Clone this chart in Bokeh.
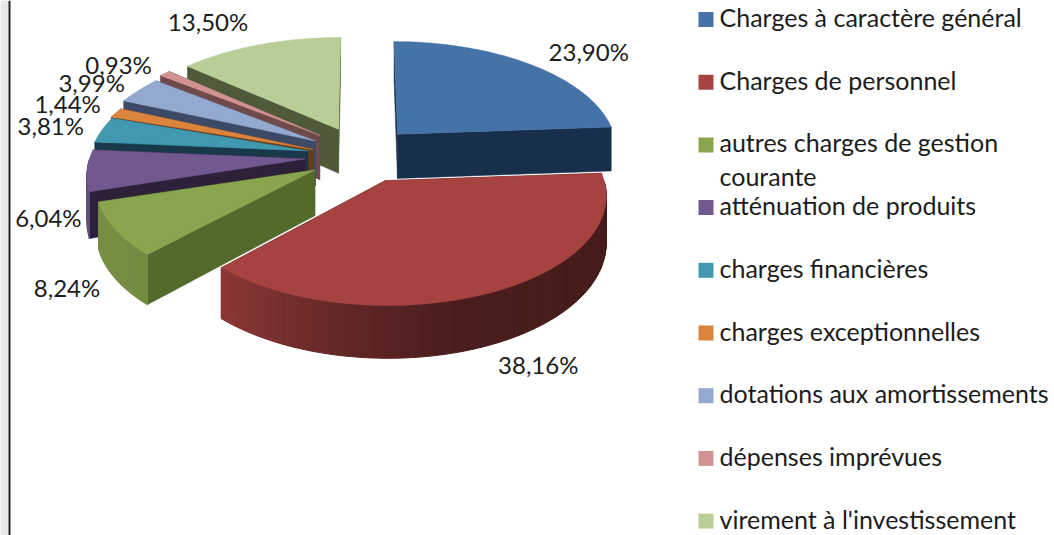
import math
from bokeh.plotting import figure
from bokeh.models import Range1d
from bokeh.embed import file_html
from bokeh.resources import INLINE
from bokeh.core.properties import value

categories = ["Charges à caractère général", "Charges de personnel",
              "autres charges de gestion\ncourante", "atténuation de produits",
              "charges financières", "charges exceptionnelles",
              "dotations aux amortissements", "dépenses imprévues",
              "virement à l'investissement"]
shares = [23.90, 38.16, 8.24, 6.04, 3.81, 1.44, 3.99, 0.93, 13.50]
colors = ["#4572A7", "#A64240", "#89A54E", "#71588F", "#4198AF", "#DB843D", "#93A9CF", "#D19392", "#B9CD96"]
walls = ["#172F4A", "#451A18", "#546A2D", "#2C2138", "#19394A", "#6A3D15", "#3D4A66", "#6E4A4A", "#4F5A3A"]

# projection of the 3-D pie
CX, CY, A, B, K, EXPL, H = 365, 155, 225, 108, 0.125, 0.21, 45
FONT = value("Lato")
label_nudge = [(56, -18), (38, 72), (-47, 57), (-42, 48), (-56, -4), (-57, -7), (-57, -11), (-56, -15), (-59, -29)]
# per-slice fine placement: horizontal scale about CX, screen offset, vertical scale about CY
slice_fit = [(0.98, 1, -5, 1.0), (0.95, 0, 5, 0.96), (0.948, -12, 3, 0.95), (0.957, -15, 1, 1.0),
             (0.968, -13, 0, 1.0), (1.0, -9, 2, 1.0), (1.0, -10, -3, 1.0), (1.0, -10, -6, 1.0), (1.0, -8, -6, 1.0)]
NOFIT = (1.0, 0, 0, 1.0)


def proj(u, v, down=0.0, fit=NOFIT):
    s = 1 / (1 + K * v)
    return (CX + fit[0] * A * u * s + fit[1],
            CY + fit[3] * (-B * v * s) + down * H * s + fit[2])


def shade(hex_col, f):
    r, g, b = (int(hex_col[i:i + 2], 16) for i in (1, 3, 5))
    return "#%02x%02x%02x" % (int(r * f), int(g * f), int(b * f))


def front_factor(u):
    # light falls from the left on the rounded wall
    pts = [(-1.0, 0.88), (-0.68, 0.84), (-0.2, 0.6), (0.25, 0.45), (1.0, 0.42)]
    for (a, fa), (b, fb) in zip(pts, pts[1:]):
        if u <= b:
            t = max(0, (u - a) / (b - a))
            return fa + (fb - fa) * t
    return pts[-1][1]


p = figure(width=1054, height=535, x_range=Range1d(0, 1054), y_range=Range1d(535, 0),
           output_backend="svg", toolbar_location=None, min_border=0)
p.axis.visible = False
p.grid.visible = False
p.outline_line_color = None
p.background_fill_color = "#ffffff"
p.border_fill_color = "#ffffff"

# window edge at the left of the picture
p.quad(left=[0], right=[8], bottom=[535], top=[0], fill_color="#e8e8e8", line_color=None)
p.quad(left=[8], right=[10], bottom=[535], top=[0], fill_color="#222222", line_color=None)

total = sum(shares)
slices = []
acc = 0.0
for i, sh in enumerate(shares):
    t0 = acc / total * 2 * math.pi
    acc += sh
    t1 = acc / total * 2 * math.pi
    slices.append((i, t0, t1, (t0 + t1) / 2))

mid_pts = {}
for i, t0, t1, tm in sorted(slices, key=lambda q: -math.cos(q[3])):
    fit = slice_fit[i]
    ox, oy = EXPL * math.sin(tm), EXPL * math.cos(tm)
    n = max(3, int((t1 - t0) / math.radians(1.5)))
    ts = [t0 + (t1 - t0) * j / n for j in range(n + 1)]
    arc = [(ox + math.sin(t), oy + math.cos(t)) for t in ts]
    mid_pts[i] = proj(ox + math.sin(tm), oy + math.cos(tm))

    # radial walls: the one lower on the screen comes last
    edges = sorted([arc[0], arc[-1]], key=lambda q: proj(*q)[1])
    for e in edges:
        q = [proj(ox, oy, 0, fit), proj(*e, 0, fit), proj(*e, 1, fit), proj(ox, oy, 1, fit)]
        p.patch([c[0] for c in q], [c[1] for c in q], fill_color=walls[i], line_color=walls[i], line_width=0.5)

    # rounded wall, only where it faces the viewer
    for (a, b) in zip(arc, arc[1:]):
        if (a[1] + b[1]) / 2 - oy < 0:
            q = [proj(*a, 0, fit), proj(*b, 0, fit), proj(*b, 1, fit), proj(*a, 1, fit)]
            col = shade(colors[i], front_factor((a[0] + b[0]) / 2 - ox))
            p.patch([c[0] for c in q], [c[1] for c in q], fill_color=col, line_color=col, line_width=1)

    top = [proj(ox, oy, 0, fit)] + [proj(*c, 0, fit) for c in arc]
    p.patch([c[0] for c in top], [c[1] for c in top], fill_color=colors[i], line_color=colors[i], line_width=0.5)

# value labels
for i, sh in enumerate(shares):
    mx, my = mid_pts[i]
    p.text([mx + label_nudge[i][0]], [my + label_nudge[i][1]], text=[f"{sh:.2f}%".replace(".", ",")],
           text_font=FONT, text_font_size="24px", text_color="#1c1c1c", text_align="center", text_baseline="middle")

# legend
LEG_Y0, LEG_DY, LEG_BOX, LEG_X = 19, 62.7, 15, 698
for i, cat in enumerate(categories):
    y = LEG_Y0 + LEG_DY * i
    p.rect([LEG_X + LEG_BOX / 2], [y], width=LEG_BOX, height=LEG_BOX, fill_color=colors[i], line_color=None)
    for j, line in enumerate(cat.split("\n")):
        p.text([LEG_X + 21], [y - 2.5 + j * 34], text=[line], text_font=FONT, text_font_size="25px",
               text_color="#1c1c1c", text_align="left", text_baseline="middle")

html = file_html(p, INLINE)
html = html.replace("<body>", '<body style="margin:0;text-rendering:optimizeSpeed">', 1)
open("out.html", "w").write(html)
